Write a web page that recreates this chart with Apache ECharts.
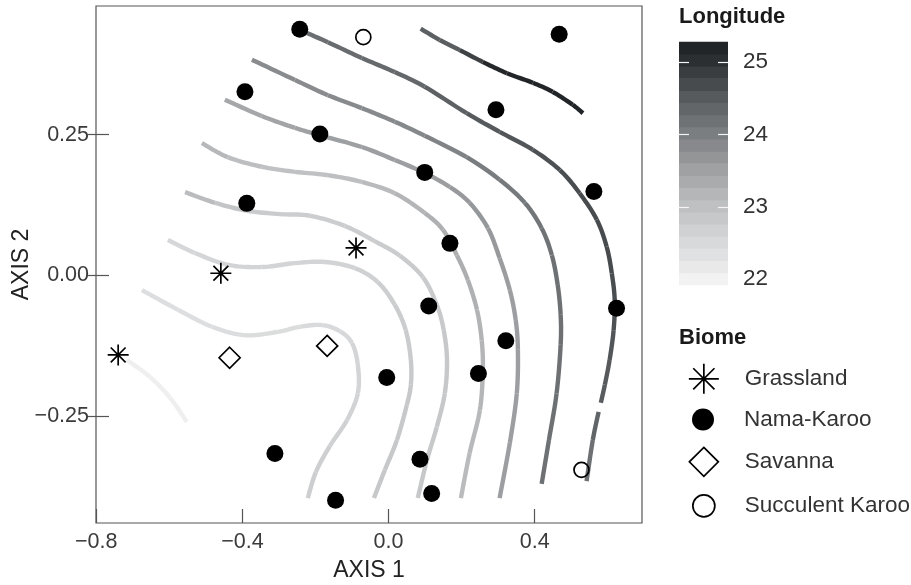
<!DOCTYPE html>
<html>
<head>
<meta charset="utf-8">
<script src="https://cdn.jsdelivr.net/npm/echarts@6/dist/echarts.min.js"></script>
<style>
  html, body { margin: 0; padding: 0; background: #fff; }
  #chart { width: 911px; height: 585px; }
</style>
</head>
<body>
<div id="chart"></div>
<script>
const FONT = '"Liberation Sans", Arial, Helvetica, sans-serif';

// Site scores on the first two ordination axes, grouped by biome
const grassland = [[-0.459, 0.004], [-0.740, -0.141], [-0.089, 0.049]];
const namaKaroo = [
  [-0.243, 0.437], [0.467, 0.428], [-0.393, 0.326], [0.294, 0.294], [-0.188, 0.251],
  [0.099, 0.183], [0.562, 0.149], [-0.388, 0.128], [0.168, 0.057], [0.624, -0.058],
  [0.110, -0.054], [0.321, -0.116], [-0.005, -0.181], [0.246, -0.174], [-0.311, -0.316],
  [0.086, -0.326], [-0.145, -0.399], [0.118, -0.387]
];
const savanna = [[-0.435, -0.146], [-0.168, -0.125]];
const succulentKaroo = [[-0.069, 0.423], [0.528, -0.345]];

// Fitted longitude surface, traced as paths of [axis 1, axis 2, longitude]
const contour1 = [[-0.716, -0.150, 22.05], [-0.653, -0.180, 22.05], [-0.598, -0.217, 22.05], [-0.552, -0.260, 22.05]];
const contour2 = [
  [-0.675, -0.026, 22.40], [-0.576, -0.061, 22.40], [-0.483, -0.091, 22.40], [-0.393, -0.106, 22.45],
  [-0.303, -0.100, 22.45], [-0.243, -0.091, 22.45], [-0.182, -0.088, 22.50], [-0.133, -0.099, 22.50],
  [-0.100, -0.120, 22.55], [-0.084, -0.159, 22.60], [-0.084, -0.209, 22.60], [-0.114, -0.257, 22.65],
  [-0.161, -0.303, 22.70], [-0.199, -0.349, 22.70], [-0.221, -0.395, 22.75]
];
const contour3 = [
  [-0.604, 0.063, 22.55], [-0.530, 0.040, 22.55], [-0.440, 0.019, 22.60], [-0.347, 0.015, 22.60],
  [-0.256, 0.022, 22.60], [-0.174, 0.024, 22.60], [-0.092, 0.013, 22.65], [-0.029, -0.012, 22.70],
  [0.017, -0.052, 22.75], [0.047, -0.097, 22.80], [0.061, -0.150, 22.80], [0.061, -0.194, 22.85],
  [0.050, -0.230, 22.85], [0.023, -0.292, 22.85], [-0.010, -0.345, 22.85], [-0.040, -0.395, 22.85]
];
const contour4 = [
  [-0.557, 0.148, 23.15], [-0.475, 0.129, 23.00], [-0.388, 0.115, 22.85], [-0.297, 0.109, 22.75],
  [-0.215, 0.106, 22.75], [-0.120, 0.088, 22.75], [-0.038, 0.061, 22.75], [0.031, 0.035, 22.80],
  [0.094, -0.003, 22.80], [0.132, -0.052, 22.80], [0.151, -0.097, 22.85], [0.160, -0.150, 22.85],
  [0.154, -0.209, 22.85], [0.132, -0.269, 22.85], [0.105, -0.328, 22.85], [0.080, -0.395, 22.85]
];
const contour5 = [
  [-0.511, 0.235, 23.20], [-0.440, 0.210, 23.10], [-0.347, 0.193, 23.00], [-0.256, 0.184, 23.00],
  [-0.166, 0.178, 23.00], [-0.073, 0.166, 23.05], [0.017, 0.146, 23.15], [0.099, 0.111, 23.25],
  [0.149, 0.081, 23.30], [0.187, 0.036, 23.30], [0.217, -0.008, 23.30], [0.242, -0.061, 23.25],
  [0.255, -0.115, 23.20], [0.258, -0.168, 23.20], [0.250, -0.239, 23.15], [0.222, -0.315, 23.10],
  [0.198, -0.395, 23.10]
];
const contour6 = [
  [-0.448, 0.312, 23.40], [-0.347, 0.283, 23.45], [-0.256, 0.262, 23.50], [-0.188, 0.249, 23.52],
  [-0.073, 0.228, 23.55], [0.017, 0.205, 23.55], [0.099, 0.182, 23.55], [0.168, 0.157, 23.60],
  [0.222, 0.129, 23.65], [0.272, 0.084, 23.65], [0.304, 0.031, 23.60], [0.332, -0.026, 23.55],
  [0.348, -0.079, 23.55], [0.354, -0.132, 23.55], [0.351, -0.209, 23.55], [0.332, -0.297, 23.55],
  [0.304, -0.395, 23.55]
];
const contour7 = [
  [-0.374, 0.383, 23.82], [-0.256, 0.347, 23.82], [-0.166, 0.320, 23.83], [-0.073, 0.297, 23.84],
  [0.017, 0.273, 23.85], [0.099, 0.248, 23.87], [0.214, 0.210, 24.00], [0.304, 0.170, 24.05],
  [0.373, 0.129, 24.10], [0.419, 0.084, 24.15], [0.447, 0.036, 24.20], [0.463, -0.017, 24.20],
  [0.471, -0.070, 24.20], [0.471, -0.123, 24.20], [0.460, -0.209, 24.20], [0.439, -0.292, 24.20],
  [0.419, -0.370, 24.20]
];
const contour8Upper = [
  [-0.243, 0.436, 24.20], [-0.166, 0.414, 24.25], [-0.073, 0.386, 24.28], [0.017, 0.361, 24.32],
  [0.099, 0.335, 24.35], [0.214, 0.288, 24.50], [0.304, 0.255, 24.55], [0.395, 0.223, 24.60],
  [0.469, 0.187, 24.65], [0.523, 0.146, 24.70], [0.570, 0.099, 24.70], [0.597, 0.051, 24.70],
  [0.611, 0.004, 24.70], [0.619, -0.044, 24.65], [0.616, -0.097, 24.60], [0.605, -0.150, 24.55],
  [0.592, -0.194, 24.50], [0.581, -0.226, 24.50]
];
const contour8Lower = [[0.575, -0.242, 24.45], [0.559, -0.292, 24.30], [0.542, -0.365, 24.10]];
const contour9 = [
  [0.088, 0.438, 24.45], [0.140, 0.418, 24.45], [0.195, 0.400, 24.50], [0.258, 0.379, 25.10],
  [0.324, 0.359, 25.20], [0.395, 0.342, 25.20], [0.449, 0.326, 25.20], [0.504, 0.303, 25.20],
  [0.532, 0.288, 25.20]
];
const contours = [contour1, contour2, contour3, contour4, contour5, contour6, contour7,
  contour8Upper, contour8Lower, contour9];

// Axis ticks and colour-bar scale
const xTicks = [-0.8, -0.4, 0.0, 0.4];
const yTicks = [-0.25, 0.0, 0.25];
const lonTicks = [22, 23, 24, 25];
const lonRange = [21.92, 25.28];

// Grey ramp used for both the contour paths and the colour bar
const rampStops = [22.0, 22.5, 23.0, 23.5, 24.0, 24.5, 25.0, 25.3];
const rampColors = ['#f2f2f2', '#d8d9da', '#bfc1c2', '#a0a2a4', '#7c7f82', '#585c5f', '#2d3134', '#1c1f22'];

function hexRgb(h) {
  return [parseInt(h.slice(1, 3), 16), parseInt(h.slice(3, 5), 16), parseInt(h.slice(5, 7), 16)];
}
function lonColor(v) {
  if (v <= rampStops[0]) return rampColors[0];
  for (let i = 1; i < rampStops.length; i++) {
    if (v <= rampStops[i]) {
      const t = (v - rampStops[i - 1]) / (rampStops[i] - rampStops[i - 1]);
      const a = hexRgb(rampColors[i - 1]), b = hexRgb(rampColors[i]);
      return 'rgb(' + a.map((x, j) => Math.round(x + (b[j] - x) * t)).join(',') + ')';
    }
  }
  return rampColors[rampColors.length - 1];
}

// Catmull-Rom point between p1 and p2 (pixel space)
function crPoint(p0, p1, p2, p3, t) {
  const t2 = t * t, t3 = t2 * t;
  return [0, 1].map(d => 0.5 * (2 * p1[d] + (-p0[d] + p2[d]) * t +
    (2 * p0[d] - 5 * p1[d] + 4 * p2[d] - p3[d]) * t2 +
    (-p0[d] + 3 * p1[d] - 3 * p2[d] + p3[d]) * t3));
}

function renderContour(params, api) {
  const path = contours[api.value(2)];
  const px = path.map(p => api.coord([p[0], p[1]]));
  const children = [];
  for (let i = 0; i < px.length - 1; i++) {
    const p0 = px[Math.max(i - 1, 0)], p1 = px[i], p2 = px[i + 1], p3 = px[Math.min(i + 2, px.length - 1)];
    const pts = [];
    for (let k = 0; k <= 10; k++) pts.push(crPoint(p0, p1, p2, p3, k / 10));
    children.push({
      type: 'polyline',
      silent: true,
      shape: { points: pts },
      style: { stroke: lonColor((path[i][2] + path[i + 1][2]) / 2), lineWidth: 4.4, fill: null, lineCap: 'butt', lineJoin: 'round' }
    });
  }
  return { type: 'group', children };
}

// Colour-bar bins
const binCount = 20;
const lonBins = [];
for (let i = 0; i < binCount; i++) {
  const lo = lonRange[0] + (lonRange[1] - lonRange[0]) * i / binCount;
  const hi = lonRange[0] + (lonRange[1] - lonRange[0]) * (i + 1) / binCount;
  lonBins.push([0.5, (lo + hi) / 2, lo, hi]);
}
function renderBin(params, api) {
  const a = api.coord([0, api.value(3)]);
  const b = api.coord([1, api.value(2)]);
  return {
    type: 'rect',
    shape: { x: a[0], y: a[1] - 0.3, width: b[0] - a[0], height: b[1] - a[1] + 0.6 },
    style: { fill: lonColor(api.value(1)) }
  };
}

const minus = s => s.replace('-', '\u2212');
const asterisk = 'path://M10 0L10 20M0 10L20 10M2.93 2.93L17.07 17.07M2.93 17.07L17.07 2.93';
const diamond = 'path://M10 0L20 10L10 20L0 10Z';
const axisText = { fontSize: 21.5, color: '#3a3a3a', fontFamily: FONT };
// Legend symbols sit centred at x = 703, labels start at x = 744
const legendBase = {
  orient: 'vertical', padding: 0, itemWidth: 72, selectedMode: false,
  textStyle: { fontSize: 22.5, color: '#333', fontFamily: FONT },
  itemStyle: { borderWidth: 1.7 }
};

const chart = echarts.init(document.getElementById('chart'), null, { renderer: 'canvas' });
chart.setOption({
  animation: false,
  backgroundColor: '#fff',
  textStyle: { fontFamily: FONT },
  title: [
    { text: 'Longitude', left: 679, top: 6, padding: 0, textStyle: { fontSize: 22, fontWeight: 'bold', color: '#1a1a1a', fontFamily: FONT } },
    { text: 'Biome', left: 679, top: 327, padding: 0, textStyle: { fontSize: 22, fontWeight: 'bold', color: '#1a1a1a', fontFamily: FONT } }
  ],
  legend: [
    Object.assign({}, legendBase, { data: ['Grassland'], left: 688, top: 363, itemHeight: 30 }),
    Object.assign({}, legendBase, { data: ['Nama-Karoo'], left: 692, top: 408, itemHeight: 22 }),
    Object.assign({}, legendBase, { data: ['Savanna'], left: 688.5, top: 446.5, itemHeight: 29 }),
    Object.assign({}, legendBase, { data: ['Succulent Karoo'], left: 692, top: 494, itemHeight: 22 })
  ],
  grid: [
    { left: 96, right: 269, top: 6, bottom: 62, show: true, borderColor: '#555', borderWidth: 1.2,
      backgroundColor: 'transparent', outerBoundsMode: 'none', containLabel: false },
    { left: 679, top: 42, width: 49, height: 243, outerBoundsMode: 'none', containLabel: false }
  ],
  xAxis: [
    {
      type: 'value', gridIndex: 0, min: -0.8007, max: 0.6937,
      name: 'AXIS 1', nameLocation: 'middle', nameGap: 36, nameMoveOverlap: false,
      nameTextStyle: { fontSize: 23, color: '#222', fontFamily: FONT },
      axisLine: { show: false, onZero: false },
      axisTick: { show: true, inside: true, length: 14, customValues: xTicks, lineStyle: { color: '#555', width: 1.2 } },
      axisLabel: { customValues: xTicks, margin: 8, formatter: v => minus(v.toFixed(1)), ...axisText },
      splitLine: { show: false }
    },
    { type: 'value', gridIndex: 1, min: 0, max: 1, show: false, axisLine: { onZero: false } }
  ],
  yAxis: [
    {
      type: 'value', gridIndex: 0, position: 'left', min: -0.4393, max: 0.4783,
      name: 'AXIS 2', nameLocation: 'middle', nameGap: 63, nameRotate: 90, nameMoveOverlap: false,
      nameTextStyle: { fontSize: 23, color: '#222', fontFamily: FONT },
      axisLine: { show: false, onZero: false },
      axisTick: { show: true, inside: false, length: 8, customValues: yTicks, lineStyle: { color: '#555', width: 1.2 } },
      axisLabel: { customValues: yTicks, margin: 7, formatter: v => minus(v.toFixed(2)), ...axisText },
      splitLine: { show: false }
    },
    {
      type: 'value', gridIndex: 0, position: 'left', min: -0.4393, max: 0.4783,
      axisLine: { show: false, onZero: false },
      axisTick: { show: true, inside: true, length: 13, customValues: yTicks, lineStyle: { color: '#555', width: 1.2 } },
      axisLabel: { show: false },
      splitLine: { show: false }
    },
    {
      type: 'value', gridIndex: 1, position: 'right', min: lonRange[0], max: lonRange[1], z: 10,
      axisLine: { show: false, onZero: false },
      axisTick: { show: true, inside: true, length: 10, customValues: lonTicks, lineStyle: { color: '#f4f4f4', width: 1.2 } },
      axisLabel: { customValues: lonTicks, margin: 15, fontSize: 22.5, color: '#333', fontFamily: FONT },
      splitLine: { show: false }
    },
    {
      type: 'value', gridIndex: 1, position: 'left', min: lonRange[0], max: lonRange[1], z: 10,
      axisLine: { show: false, onZero: false },
      axisTick: { show: true, inside: true, length: 10, customValues: lonTicks, lineStyle: { color: '#f4f4f4', width: 1.2 } },
      axisLabel: { show: false },
      splitLine: { show: false }
    }
  ],
  series: [
    {
      name: 'Longitude surface', type: 'custom', xAxisIndex: 0, yAxisIndex: 0, z: 1,
      renderItem: renderContour, encode: { x: 0, y: 1 },
      data: contours.map((c, i) => [c[0][0], c[0][1], i])
    },
    {
      name: 'Longitude bar', type: 'custom', xAxisIndex: 1, yAxisIndex: 2, z: 1, silent: true,
      renderItem: renderBin, encode: { x: 0, y: 1 }, data: lonBins
    },
    {
      name: 'Grassland', type: 'scatter', xAxisIndex: 0, yAxisIndex: 0, z: 5,
      symbol: asterisk, symbolSize: 21, symbolKeepAspect: true,
      itemStyle: { color: '#000', borderColor: '#000', borderWidth: 1.7, opacity: 1 }, data: grassland
    },
    {
      name: 'Nama-Karoo', type: 'scatter', xAxisIndex: 0, yAxisIndex: 0, z: 5,
      symbol: 'circle', symbolSize: 17, symbolKeepAspect: true,
      itemStyle: { color: '#000', borderWidth: 0, opacity: 1 }, data: namaKaroo
    },
    {
      name: 'Savanna', type: 'scatter', xAxisIndex: 0, yAxisIndex: 0, z: 5,
      symbol: diamond, symbolSize: 21, symbolKeepAspect: true,
      itemStyle: { color: 'rgba(255,255,255,0)', borderColor: '#000', borderWidth: 1.7, opacity: 1 }, data: savanna
    },
    {
      name: 'Succulent Karoo', type: 'scatter', xAxisIndex: 0, yAxisIndex: 0, z: 5,
      symbol: 'circle', symbolSize: 15, symbolKeepAspect: true,
      itemStyle: { color: 'rgba(255,255,255,0)', borderColor: '#000', borderWidth: 1.7, opacity: 1 }, data: succulentKaroo
    }
  ]
});
</script>
</body>
</html>
